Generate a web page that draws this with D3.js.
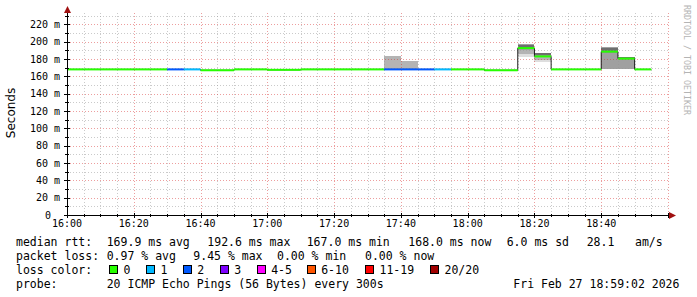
<!DOCTYPE html>
<html>
<head>
<meta charset="utf-8">
<script src="https://cdn.jsdelivr.net/npm/d3@7/dist/d3.min.js"></script>
<style>
  html, body { margin: 0; padding: 0; background: #fff; }
  svg { display: block; }
  text { font-family: "DejaVu Sans Mono", monospace; fill: #000; }
</style>
</head>
<body>
<svg id="chart" width="697" height="297"></svg>
<script>
// 5 minute buckets, start time of each
const bucketStarts = ["16:00","16:05","16:10","16:15","16:20","16:25","16:30","16:35","16:40","16:45",
  "16:50","16:55","17:00","17:05","17:10","17:15","17:20","17:25","17:30","17:35",
  "17:40","17:45","17:50","17:55","18:00","18:05","18:10","18:15","18:20","18:25",
  "18:30","18:35","18:40","18:45","18:50"];
// median rtt in ms
const medianRtt = [168,168,168,168,168,168,168,168,167,167,
  168,168,167.5,167.5,168,168,168,168,168,168,
  168,168,168,168,168,167,167,192.6,183,168,
  168,168,188.5,180.5,168];
// lost pings out of 20
const lossCount = [0,0,0,0,0,0,2,1,0,0,
  0,0,0,0,0,0,0,0,0,2,
  2,2,1,0,0,0,0,0,0,0,
  0,0,0,0,0];

// smoke: [low ms, high ms, density level]
const smokeTimes = ["17:35","17:40","18:15","18:20","18:40","18:45"];
const smokeBands = [
  [[168,183.5,1]],
  [[168,178,1]],
  [[182,186,0],[186,190,1],[190,194,2],[194,196,3],[196,197,2]],
  [[176,179,0],[179,182,1],[182,185,2],[185,186.5,3]],
  [[168,189,2],[189,192.5,3],[192.5,193.5,2]],
  [[168,181,2],[181,182.5,3]]
];

const yTicks = [0,20,40,60,80,100,120,140,160,180,200,220];
const xTickLabels = ["16:00","16:20","16:40","17:00","17:20","17:40","18:00","18:20","18:40"];

const lossLabels = ["0","1","2","3","4-5","6-10","11-19","20/20"];
const lossMin = [0,1,2,3,4,6,11,20];
const lossColors = ["#26ff00","#00b8ff","#0059ff","#7e00ff","#ff00ff","#ff5500","#ff0000","#a10000"];
const smokeShades = ["#dedede","#b4b4b4","#a0a0a0","#6e6e6e"];

const rttLegend = ["median rtt:","169.9 ms avg","192.6 ms max","167.0 ms min","168.0 ms now","6.0 ms sd","28.1","am/s"];
const lossLegend = ["packet loss:","0.97 % avg","9.45 % max","0.00 % min","0.00 % now"];
const probeLegend = ["probe:","20 ICMP Echo Pings (56 Bytes) every 300s","Fri Feb 27 18:59:02 2026"];

const svg = d3.select("#chart");

const t = s => {
  const [h, m] = s.split(":").map(Number);
  return new Date(Date.UTC(2026, 1, 27, h, m));
};
const addMin = (d, m) => new Date(d.getTime() + m * 60000);

const plotLeft = 67, plotRight = 668, plotTop = 15, plotBottom = 215;
const x = d3.scaleUtc().domain([t("16:00"), t("19:00")]).range([plotLeft, plotRight]);
const y = d3.scaleLinear().domain([0, 230.77]).range([plotBottom, plotTop]);

// smoke
const smokeG = svg.append("g").attr("shape-rendering", "crispEdges");
smokeTimes.forEach((s, i) => {
  const x0 = x(t(s)), x1 = x(addMin(t(s), 5));
  smokeG.selectAll(null)
    .data(smokeBands[i])
    .enter()
    .append("rect")
    .attr("x", x0)
    .attr("width", x1 - x0)
    .attr("y", d => y(d[1]))
    .attr("height", d => y(d[0]) - y(d[1]))
    .attr("fill", d => smokeShades[d[2]]);
});

// grid
const gridG = svg.append("g").attr("shape-rendering", "crispEdges");
const minorX = d3.utcMinute.every(5).range(t("16:00"), addMin(t("19:00"), 1));
minorX.forEach(d => {
  const major = d.getUTCMinutes() % 20 === 0;
  gridG.append("line")
    .attr("x1", Math.round(x(d)) + 0.5).attr("x2", Math.round(x(d)) + 0.5)
    .attr("y1", plotTop - 2).attr("y2", plotBottom)
    .attr("stroke", major ? "rgba(215,40,40,0.45)" : "rgba(150,150,150,0.5)")
    .attr("stroke-dasharray", "1,2");
});
d3.range(0, 231, 10).forEach(v => {
  const major = v % 20 === 0;
  gridG.append("line")
    .attr("x1", plotLeft).attr("x2", plotRight)
    .attr("y1", Math.round(y(v)) + 0.5).attr("y2", Math.round(y(v)) + 0.5)
    .attr("stroke", major ? "rgba(215,40,40,0.45)" : "rgba(150,150,150,0.5)")
    .attr("stroke-dasharray", "1,2");
});

// median step line
const pts = bucketStarts.map((s, i) => [t(s), medianRtt[i]]);
pts.push([addMin(t(bucketStarts[bucketStarts.length - 1]), 5), medianRtt[medianRtt.length - 1]]);
svg.append("path")
  .attr("d", d3.line().x(d => x(d[0])).y(d => y(d[1])).curve(d3.curveStepAfter)(pts))
  .attr("fill", "none")
  .attr("stroke", "#202020")
  .attr("stroke-width", 1);

// loss-coloured median
const lossColor = n => {
  let c = lossColors[0];
  lossMin.forEach((m, i) => { if (n >= m) c = lossColors[i]; });
  return c;
};
const seg = d3.line().x(d => x(d[0])).y(d => y(d[1]));
svg.append("g")
  .selectAll("path")
  .data(bucketStarts)
  .enter()
  .append("path")
  .attr("d", (s, i) => seg([[t(s), medianRtt[i]], [addMin(t(s), 5), medianRtt[i]]]))
  .attr("stroke", (s, i) => lossColor(lossCount[i]))
  .attr("stroke-width", 2)
  .attr("fill", "none");

// axes
const axG = svg.append("g").attr("shape-rendering", "crispEdges");
axG.append("line").attr("x1", plotLeft + 0.5).attr("x2", plotLeft + 0.5).attr("y1", plotBottom + 3).attr("y2", 11)
  .attr("stroke", "#000");
axG.append("line").attr("x1", plotLeft - 3).attr("x2", plotRight + 3).attr("y1", plotBottom + 0.5).attr("y2", plotBottom + 0.5)
  .attr("stroke", "#000");
svg.append("path").attr("d", `M${plotLeft - 3},13 L${plotLeft + 4},13 L${plotLeft + 0.5},6 Z`).attr("fill", "#a01010");
svg.append("path").attr("d", `M${plotRight + 1},${plotBottom - 3} L${plotRight + 1},${plotBottom + 4} L${plotRight + 8},${plotBottom + 0.5} Z`).attr("fill", "#a01010");

minorX.forEach(d => {
  const major = d.getUTCMinutes() % 20 === 0;
  axG.append("line")
    .attr("x1", Math.round(x(d)) + 0.5).attr("x2", Math.round(x(d)) + 0.5)
    .attr("y1", plotBottom - (major ? 2 : 1)).attr("y2", plotBottom + (major ? 3 : 2))
    .attr("stroke", "#000");
});
d3.range(0, 231, 10).forEach(v => {
  const major = v % 20 === 0;
  axG.append("line")
    .attr("x1", plotLeft - (major ? 3 : 2)).attr("x2", plotLeft + (major ? 3 : 2))
    .attr("y1", Math.round(y(v)) + 0.5).attr("y2", Math.round(y(v)) + 0.5)
    .attr("stroke", "#000");
});

// tick labels
svg.append("g")
  .selectAll("text")
  .data(yTicks)
  .enter()
  .append("text")
  .attr("x", d => d === 0 ? 51 : 60)
  .attr("y", d => y(d) + 3.5)
  .attr("text-anchor", "end")
  .style("font-size", "10px")
  .text(d => d === 0 ? "0" : d + " m");

svg.append("g")
  .selectAll("text")
  .data(xTickLabels)
  .enter()
  .append("text")
  .attr("x", d => x(t(d)))
  .attr("y", 227)
  .attr("text-anchor", "middle")
  .style("font-size", "10px")
  .text(d => d);

svg.append("text")
  .attr("transform", "translate(15,113) rotate(-90)")
  .attr("text-anchor", "middle")
  .style("font-family", "'DejaVu Sans', sans-serif")
  .style("font-size", "12px")
  .text("Seconds");

svg.append("text")
  .attr("transform", "translate(684,5) rotate(90)")
  .style("font-size", "8.3px")
  .style("fill", "#b4b4b4")
  .text("RRDTOOL / TOBI OETIKER");

// legend
const legend = svg.append("g").style("font-size", "11.5px");
const rttX = [16, 106.7, 207.3, 306.7, 408.3, 506.7, 586.7, 635];
const lossX = [16, 106.7, 193.3, 277, 365];
const probeX = [16, 106.7, 513.3];
const row = (items, xs, yy) => items.forEach((s, i) => {
  legend.append("text").attr("x", xs[i]).attr("y", yy).attr("xml:space", "preserve").text(s);
});
row(rttLegend, rttX, 245.5);
row(lossLegend, lossX, 259.5);
row(probeLegend, probeX, 287.5);
legend.append("text").attr("x", 16).attr("y", 273.5).text("loss color:");
const boxX = [109, 146, 182.7, 219.7, 256.7, 306.7, 365, 430];
lossLabels.forEach((l, i) => {
  legend.append("rect")
    .attr("x", Math.round(boxX[i]) + 0.5).attr("y", 265.5)
    .attr("width", 8).attr("height", 8)
    .attr("fill", lossColors[i]).attr("stroke", "#000");
  legend.append("text").attr("x", boxX[i] + 14.5).attr("y", 273.5).text(l);
});
</script>
</body>
</html>
